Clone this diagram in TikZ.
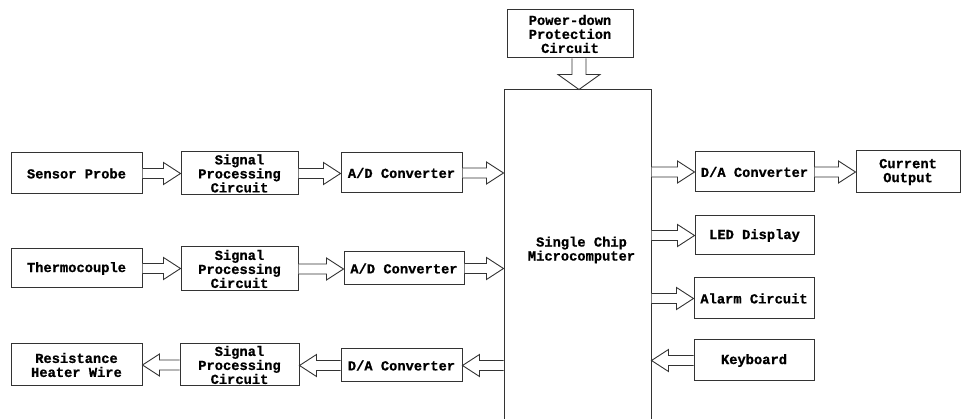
\documentclass[tikz,border=0pt]{standalone}
\usepackage{fontspec}
\setmonofont{Liberation Mono}[BoldFeatures={FakeBold=0.8}]
\usetikzlibrary{calc}
\tikzset{
  blk/.style={draw=black!80, line width=1pt, fill=white, align=center,
    font=\ttfamily\bfseries\fontsize{13.75}{14}\selectfont, inner sep=0pt},
  barrow/.style={draw=black!80, line width=0.9pt, fill=white, line join=miter},
}
% hollow block arrow between two points at the same height
\newcommand{\blockarrow}[2]{%
  \draw[barrow] let \p1=(#1), \p2=(#2), \n1={ifthenelse(\x2>\x1,1,-1)} in
    (\x1,\y1+5pt) -- (\x2-\n1*17pt,\y1+5pt) -- (\x2-\n1*17pt,\y1+11pt) -- (\x2,\y1)
    -- (\x2-\n1*17pt,\y1-11pt) -- (\x2-\n1*17pt,\y1-5pt) -- (\x1,\y1-5pt);
}
% hollow block arrow pointing down
\newcommand{\blockarrowdown}[2]{%
  \draw[barrow] let \p1=(#1), \p2=(#2) in
    (\x1-7pt,\y1) -- (\x1-7pt,\y2+15pt) -- (\x1-21pt,\y2+15pt) -- (\x1,\y2)
    -- (\x1+21pt,\y2+15pt) -- (\x1+7pt,\y2+15pt) -- (\x1+7pt,\y1);
}
\begin{document}
\begin{tikzpicture}[x=1pt, y=-1pt]
  \clip (0,0) rectangle (962,419);
  \fill[white] (0,0) rectangle (962,419);

  % central processor (its lower edge runs past the bottom of the page)
  \node[blk, minimum width=147, minimum height=330] (mcu) at (577.5,255) {};
  \node[blk, draw=none, fill=none] (mculabel) at ($(mcu.center)+(4,-5)$)
    {Single Chip\\Microcomputer};
  \node[blk, minimum width=126, minimum height=48] (pd) at (570,34)
    {Power-down\\Protection\\Circuit};

  % input chain 1
  \node[blk, minimum width=131, minimum height=41] (sp) at (76.5,173.5) {Sensor Probe};
  \node[blk, minimum width=117, minimum height=43] (spc1) at (239.5,173.5)
    {Signal\\Processing\\Circuit};
  \node[blk, minimum width=121, minimum height=40] (ad1) at (401.5,173) {A/D Converter};

  % input chain 2
  \node[blk, minimum width=131, minimum height=39] (tc) at (76.5,268.5) {Thermocouple};
  \node[blk, minimum width=117, minimum height=44] (spc2) at (239.5,269)
    {Signal\\Processing\\Circuit};
  \node[blk, minimum width=120, minimum height=33] (ad2) at (404,268.5) {A/D Converter};

  % output chain to heater
  \node[blk, minimum width=131, minimum height=42] (rhw) at (76.5,365)
    {Resistance\\Heater Wire};
  \node[blk, minimum width=119, minimum height=42] (spc3) at (239.5,365)
    {Signal\\Processing\\Circuit};
  \node[blk, minimum width=121, minimum height=33] (da1) at (401.5,365.5) {D/A Converter};

  % right-hand peripherals
  \node[blk, minimum width=119, minimum height=40] (da2) at (754.5,172) {D/A Converter};
  \node[blk, minimum width=104, minimum height=42] (co) at (908,172) {Current\\Output};
  \node[blk, minimum width=119, minimum height=39] (led) at (754.5,235.5) {LED Display};
  \node[blk, minimum width=120, minimum height=41] (alarm) at (754,298.5) {Alarm Circuit};
  \node[blk, minimum width=120, minimum height=41] (kb) at (754,360.5) {Keyboard};

  % connectors
  \coordinate (pdout) at ($(pd.south)+(9,0)$);
  \blockarrowdown{pdout}{pdout |- mcu.north}

  \blockarrow{sp.east}{sp.east -| spc1.west}
  \blockarrow{spc1.east}{spc1.east -| ad1.west}
  \blockarrow{ad1.east}{ad1.east -| mcu.west}

  \blockarrow{tc.east}{tc.east -| spc2.west}
  \blockarrow{spc2.east}{spc2.east -| ad2.west}
  \blockarrow{ad2.east}{ad2.east -| mcu.west}

  \blockarrow{mcu.west |- da1.east}{da1.east}
  \blockarrow{da1.west}{da1.west -| spc3.east}
  \blockarrow{spc3.west}{spc3.west -| rhw.east}

  \blockarrow{mcu.east |- da2.west}{da2.west}
  \blockarrow{da2.east}{da2.east -| co.west}
  \blockarrow{mcu.east |- led.west}{led.west}
  \blockarrow{mcu.east |- alarm.west}{alarm.west}
  \blockarrow{kb.west}{kb.west -| mcu.east}
\end{tikzpicture}
\end{document}
